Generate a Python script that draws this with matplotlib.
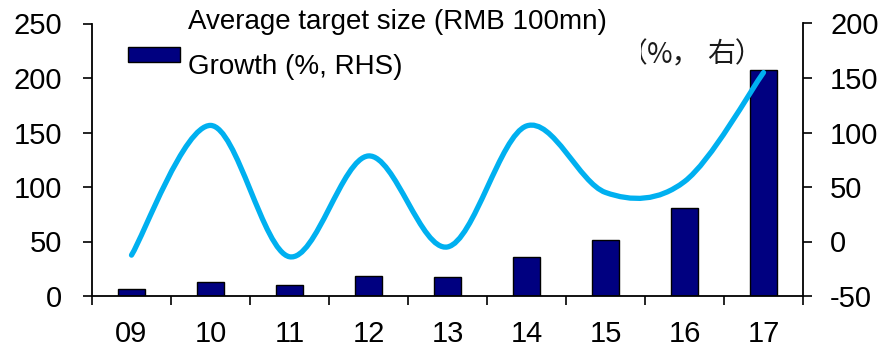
import matplotlib.pyplot as plt
import numpy as np
from matplotlib.path import Path
from matplotlib.patches import PathPatch, Rectangle
from matplotlib.transforms import Bbox, TransformedBbox

plt.rcParams['font.family'] = ['Liberation Sans', 'Noto Sans CJK SC']
plt.rcParams['axes.unicode_minus'] = False

years = ['09', '10', '11', '12', '13', '14', '15', '16', '17']
avg_size = [6, 12.5, 10.5, 18, 17.5, 35.5, 51.5, 81, 207.5]   # RMB 100mn
growth = [-12.5, 106.5, -14, 78.5, -5, 106, 45, 55, 155]       # %, right axis

W, H = 887, 348


def smooth_path(xs, ys):
    # cubic Bezier through every point, Catmull-Rom tangents
    pts = np.column_stack([xs, ys]).astype(float)
    padded = np.vstack([pts[0], pts, pts[-1]])
    verts = [pts[0]]
    codes = [Path.MOVETO]
    for i in range(len(pts) - 1):
        p0, p1, p2, p3 = padded[i], padded[i + 1], padded[i + 2], padded[i + 3]
        verts += [p1 + (p2 - p0) / 6, p2 - (p3 - p1) / 6, p2]
        codes += [Path.CURVE4] * 3
    return Path(verts, codes)


fig = plt.figure(figsize=(W / 100, H / 100), dpi=100)
ax = fig.add_axes([92 / W, (H - 296) / H, (803 - 92) / W, (296 - 23.5) / H])
x = np.arange(len(years))

ax.bar(x, avg_size, width=0.33, color='#000080', edgecolor='black', linewidth=1)
ax.set_xlim(-0.5, len(years) - 0.5)
ax.set_ylim(0, 250)
ax.set_yticks(range(0, 251, 50))

ax.set_xticks(np.arange(-0.5, len(years), 1))
ax.set_xticklabels([])
ax.set_xticks(x, minor=True)
ax.set_xticklabels(years, minor=True)

ax2 = ax.twinx()
ax2.set_ylim(-50, 200)
ax2.set_yticks(range(-50, 201, 50))
ax2.add_patch(PathPatch(smooth_path(x, growth), fill=False, edgecolor='#00B0F0',
                        linewidth=3.8, capstyle='round', joinstyle='round'))

for a in (ax, ax2):
    a.spines['top'].set_visible(False)
    for s in a.spines.values():
        s.set_linewidth(1.3)
ax.spines['right'].set_visible(False)
ax2.spines['left'].set_visible(False)
ax2.spines['bottom'].set_visible(False)

ax.tick_params(axis='x', which='major', direction='out', length=6.5, width=1.2)
ax.tick_params(axis='x', which='minor', length=0, pad=17, labelsize=21)
ax.tick_params(axis='y', direction='out', length=6.5, width=1.2, pad=15, labelsize=21)
ax2.tick_params(axis='y', direction='out', length=6.5, width=1.2, pad=13, labelsize=21)

# legend drawn by hand
fig.patches.append(Rectangle((128 / W, (H - 61.7) / H), 52 / W, 15 / H,
                             transform=fig.transFigure, facecolor='#000080',
                             edgecolor='black', linewidth=1))
fig.text(188 / W, (H - 29) / H, 'Average target size (RMB 100mn)',
         fontsize=20, va='baseline')
fig.text(188 / W, (H - 74) / H, 'Growth (%, RHS)', fontsize=20, va='baseline')

# leftover axis note, partly cut off on the left
cjk = ['Noto Sans CJK SC']
fig.text(647 / W, (H - 62) / H, '%，', fontsize=20, va='baseline', ha='left',
         color='#1a1a1a', family=cjk)
fig.text(763 / W, (H - 62) / H, '右）', fontsize=20, va='baseline', ha='right',
         color='#1a1a1a', family=cjk)
paren = fig.text(647 / W, (H - 62) / H, '（', fontsize=20, va='baseline',
                 ha='right', color='#1a1a1a', family=cjk)
paren.set_clip_box(TransformedBbox(Bbox([[641 / W, 0], [1, 1]]), fig.transFigure))
paren.set_clip_on(True)

fig.savefig('out.png', dpi=100)
